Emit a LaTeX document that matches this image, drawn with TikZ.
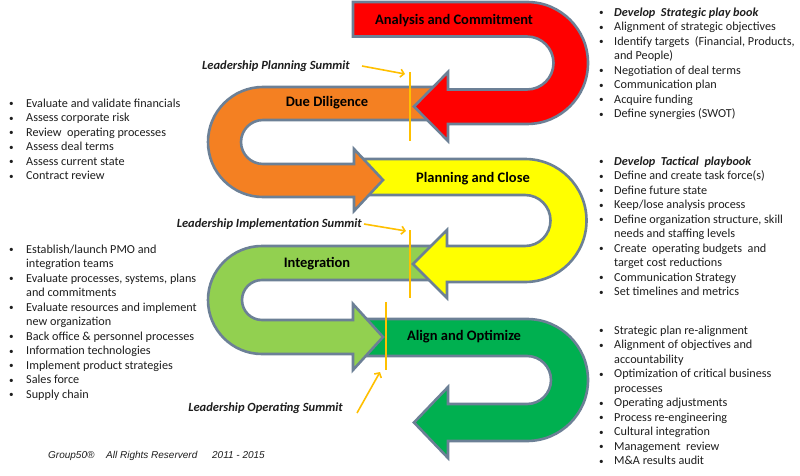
\documentclass[tikz,border=0pt]{standalone}
\usepackage{fontspec}
\setmainfont{Carlito}
\newfontfamily\arialf{Liberation Sans}
\usetikzlibrary{arrows.meta}
\definecolor{bandline}{RGB}{108,128,150}
\definecolor{cRed}{RGB}{255,0,0}
\definecolor{cOrange}{RGB}{244,128,34}
\definecolor{cYellow}{RGB}{255,255,0}
\definecolor{cLight}{RGB}{146,208,80}
\definecolor{cDark}{RGB}{0,176,80}
\definecolor{gold}{RGB}{255,192,0}
\definecolor{txt}{RGB}{30,30,30}
\newcommand{\smbul}{\raisebox{0.6pt}{\scalebox{0.75}{\textbullet}}}
\newcommand{\bl}[1]{\strut\makebox[15pt][l]{\smbul}#1}
\newcommand{\cl}[1]{\strut\hspace{15pt}#1}
\newcommand{\blL}[1]{\strut\makebox[17pt][l]{\smbul}#1}
\newcommand{\clL}[1]{\strut\hspace{17pt}#1}
\begin{document}
\begin{tikzpicture}[x=1pt,y=-1pt,
  band/.style={draw=bandline,line width=2.6pt},
  bandlabel/.style={font=\fontsize{14.5}{16}\selectfont\bfseries,text=black,inner sep=0pt},
  list/.style={anchor=north west,inner sep=0pt,align=left,text=txt,font=\fontsize{12.2}{14.5}\selectfont},
  summit/.style={font=\fontsize{12.5}{14}\selectfont\bfseries\itshape,text=txt,inner sep=0pt},
  goldline/.style={draw=gold,line width=2pt},
  goldarrow/.style={draw=gold,line width=1.6pt,-{Straight Barb[length=3.5pt,width=8pt]}}]
\useasboundingbox (0,0) rectangle (800,476);
\fill[white] (0,0) rectangle (800,476);

% Align and Optimize (dark green)
\path[band,fill=cDark] (357,319) -- (527,319) arc[start angle=-90,end angle=90,radius=61]
  -- (448,441) -- (448,458) -- (414,422.5) -- (448,387) -- (448,404)
  -- (527,404) arc[start angle=90,end angle=-90,radius=24] -- (357,356) -- cycle;
% Integration (light green)
\path[band,fill=cLight] (440,246) -- (262,246) arc[start angle=-90,end angle=-270,radius=54]
  -- (353,354) -- (353,370) -- (383,337) -- (353,304) -- (353,320)
  -- (262,320) arc[start angle=90,end angle=270,radius=20] -- (440,280) -- cycle;
% Planning and Close (yellow)
\path[band,fill=cYellow] (357,159) -- (525,159) arc[start angle=-90,end angle=90,radius=61.5]
  -- (447,282) -- (447,298) -- (413,264) -- (447,230) -- (447,246)
  -- (525,246) arc[start angle=90,end angle=-90,radius=25.5] -- (357,195) -- cycle;
% Due Diligence (orange)
\path[band,fill=cOrange] (440,87) -- (263,87) arc[start angle=-90,end angle=-270,radius=55]
  -- (354,197) -- (354,211) -- (383,180) -- (354,149) -- (354,164)
  -- (263,164) arc[start angle=90,end angle=270,radius=22] -- (440,120) -- cycle;
% Analysis and Commitment (red)
\path[band,fill=cRed] (353,2) -- (527,2) arc[start angle=-90,end angle=90,radius=61]
  -- (448,124) -- (448,141) -- (414,106.5) -- (448,72) -- (448,89.5)
  -- (527,89.5) arc[start angle=90,end angle=-90,radius=26.5] -- (353,36.5) -- cycle;

\node[bandlabel] (ac) at (454,21) {Analysis and Commitment};
\node[bandlabel] (dd) at (327,103) {Due Diligence};
\node[bandlabel] (pc) at (473,179) {Planning and Close};
\node[bandlabel] (in) at (317,264) {Integration};
\node[bandlabel] (ao) at (464,337) {Align and Optimize};

% summit markers
\coordinate (m1t) at (410,72);  \coordinate (m1b) at (410,141);
\coordinate (m2t) at (410,230); \coordinate (m2b) at (410,298);
\coordinate (m3t) at (386,302); \coordinate (m3b) at (386,370);
\draw[goldline] (m1t) -- (m1b);
\draw[goldline] (m2t) -- (m2b);
\draw[goldline] (m3t) -- (m3b);

\node[summit,anchor=east] (lps) at (350,66) {Leadership Planning Summit};
\node[summit,anchor=east] (lis) at (362,224) {Leadership Implementation Summit};
\node[summit,anchor=east] (los) at (343,408) {Leadership Operating Summit};
\coordinate (a1) at (405,74);
\coordinate (a2) at (406,231);
\coordinate (a3) at (380,372);
\draw[goldarrow] ([xshift=12pt,yshift=0pt]lps.east) -- (a1);
\draw[goldarrow] ([xshift=2pt,yshift=0pt]lis.east) -- (a2);
\draw[goldarrow] ([xshift=14pt,yshift=-5pt]los.east) -- (a3);

% lists
\node[list] (r1) at (599,6) {\bl{\textbf{\textit{Develop\ \ Strategic play book}}}\\
\bl{Alignment of strategic objectives}\\
\bl{Identify targets\ \ (Financial, Products,}\\
\cl{and People)}\\
\bl{Negotiation of deal terms}\\
\bl{Communication plan}\\
\bl{Acquire funding}\\
\bl{Define synergies (SWOT)}};
\node[list] (r2) at (599,155) {\bl{\textbf{\textit{Develop\ \ Tactical\ \ playbook}}}\\
\bl{Define and create task force(s)}\\
\bl{Define future state}\\
\bl{Keep/lose analysis process}\\
\bl{Define organization structure, skill}\\
\cl{needs and staffing levels}\\
\bl{Create\ \ operating budgets\ \ and}\\
\cl{target cost reductions}\\
\bl{Communication Strategy}\\
\bl{Set timelines and metrics}};
\node[list] (r3) at (599,324) {\bl{Strategic plan re-alignment}\\
\bl{Alignment of objectives and}\\
\cl{accountability}\\
\bl{Optimization of critical business}\\
\cl{processes}\\
\bl{Operating adjustments}\\
\bl{Process re-engineering}\\
\bl{Cultural integration}\\
\bl{Management\ \ review}\\
\bl{M\&A results audit}};
\node[list] (l1) at (9,97) {\blL{Evaluate and validate financials}\\
\blL{Assess corporate risk}\\
\blL{Review\ \ operating processes}\\
\blL{Assess deal terms}\\
\blL{Assess current state}\\
\blL{Contract review}};
\node[list] (l2) at (9,243) {\blL{Establish/launch PMO and}\\
\clL{integration teams}\\
\blL{Evaluate processes, systems, plans}\\
\clL{and commitments}\\
\blL{Evaluate resources and implement}\\
\clL{new organization}\\
\blL{Back office \& personnel processes}\\
\blL{Information technologies}\\
\blL{Implement product strategies}\\
\blL{Sales force}\\
\blL{Supply chain}};

\node[anchor=west,inner sep=0pt,font=\arialf\itshape\fontsize{10}{12}\selectfont,text=txt] (ft) at (48,456)
  {\makebox[58pt][l]{Group50®}\makebox[106pt][l]{All Rights Reserverd}2011 - 2015};
\end{tikzpicture}
\end{document}
